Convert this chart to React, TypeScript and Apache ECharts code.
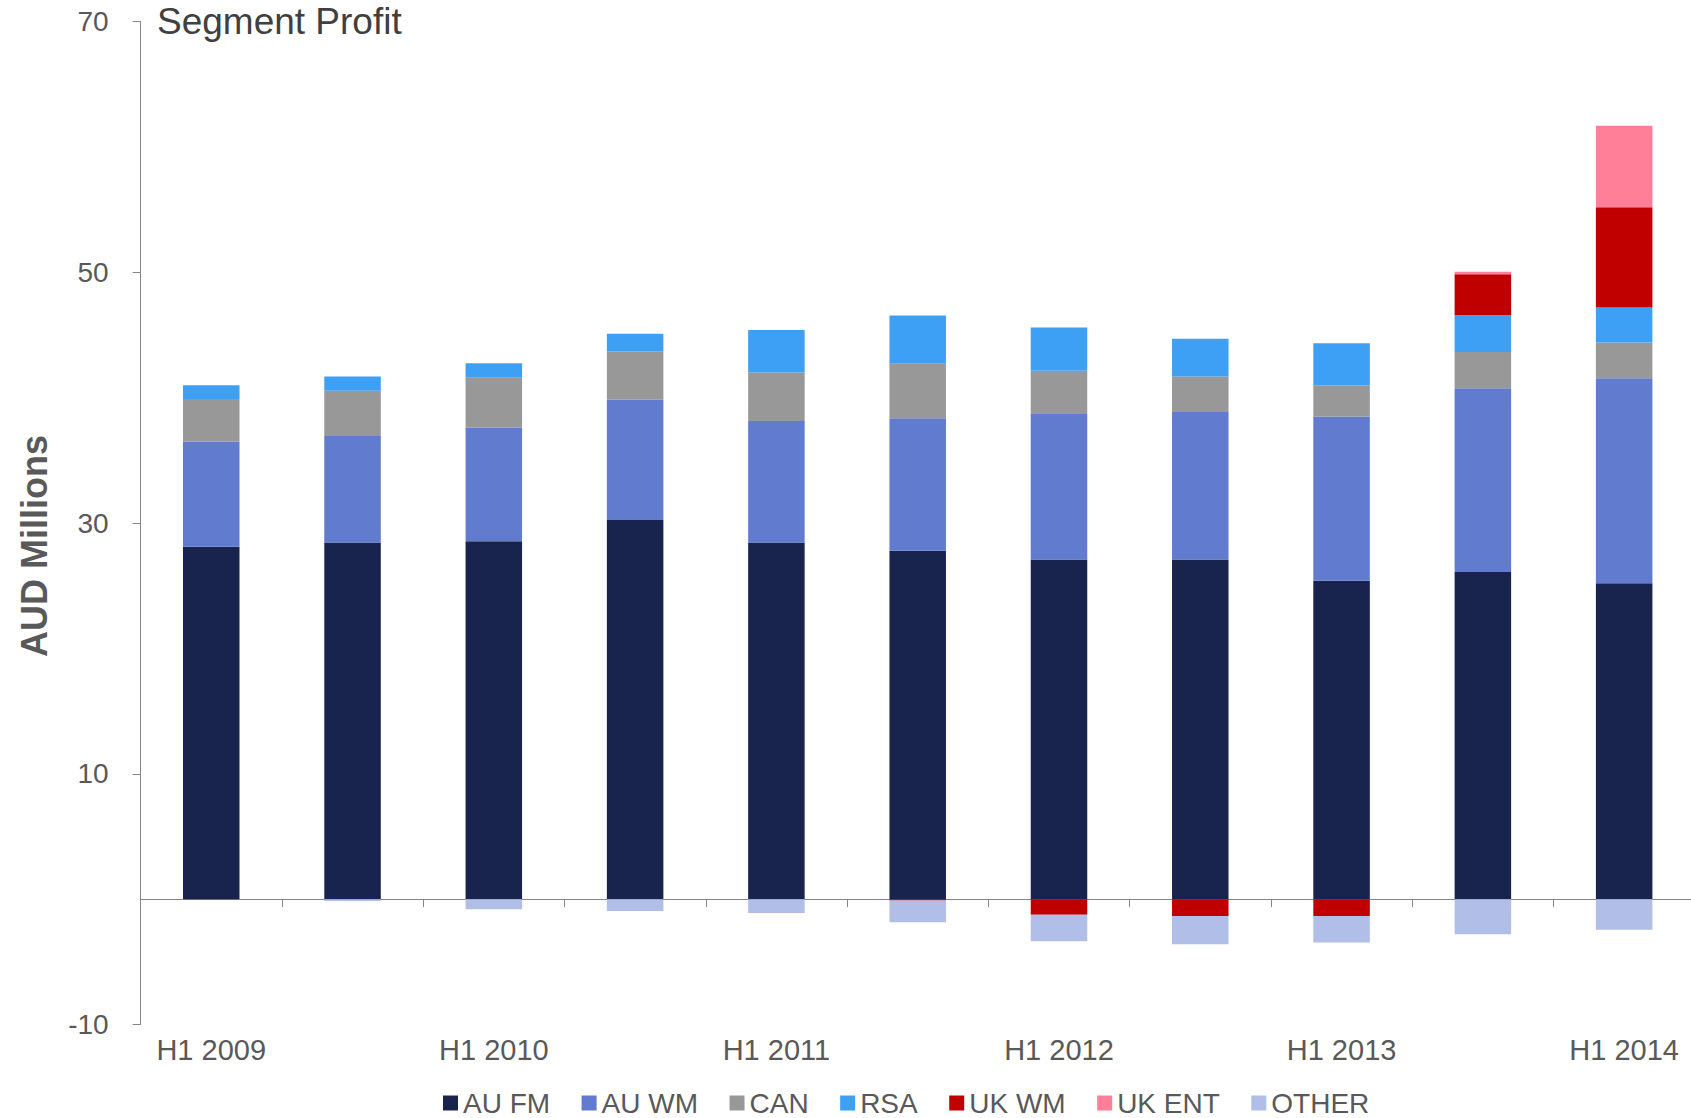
import React, { useEffect, useRef } from "react";
import * as echarts from "echarts";

const categories = [
  "H1 2009", "H2 2009", "H1 2010", "H2 2010", "H1 2011", "H2 2011",
  "H1 2012", "H2 2012", "H1 2013", "H2 2013", "H1 2014",
];
const seriesNames = ["AU FM", "AU WM", "CAN", "RSA", "UK WM", "UK ENT", "OTHER"];
const auFm = [28.1, 28.45, 28.55, 30.25, 28.45, 27.8, 27.1, 27.1, 25.4, 26.1, 25.2];
const auWm = [8.4, 8.5, 9.05, 9.6, 9.7, 10.55, 11.6, 11.75, 13.1, 14.65, 16.35];
const can = [3.4, 3.6, 4.0, 3.85, 3.85, 4.35, 3.45, 2.85, 2.5, 2.9, 2.85];
const rsa = [1.1, 1.15, 1.15, 1.4, 3.4, 3.85, 3.45, 3.0, 3.35, 2.95, 2.8];
const ukWm = [0, 0, 0, 0, 0, -0.1, -1.25, -1.35, -1.35, 3.25, 8.0];
const ukEnt = [0, 0, 0, 0, 0, 0, 0, 0, 0, 0.2, 6.5];
const other = [0, -0.15, -0.8, -0.95, -1.1, -1.75, -2.1, -2.25, -2.1, -2.8, -2.45];
const colors = ["#18244E", "#617CCE", "#989898", "#3DA0F4", "#C00000", "#FF7F99", "#B0BEE8"];
const yTicks = { min: -10, max: 70, interval: 20 };

const FONT = "'Liberation Sans', Arial, sans-serif";

export default function App() {
  const ref = useRef<HTMLDivElement>(null);
  useEffect(() => {
    if (!ref.current) return;
    const chart = echarts.init(ref.current, undefined, { renderer: "svg" });
    const data = [auFm, auWm, can, rsa, ukWm, ukEnt, other];
    chart.setOption({
      animation: false,
      backgroundColor: "#ffffff",
      textStyle: { fontFamily: FONT },
      title: {
        text: "Segment Profit",
        left: 157,
        top: 3,
        padding: 0,
        textStyle: { fontFamily: FONT, fontSize: 37, fontWeight: "normal", color: "#404040" },
      },
      legend: {
        left: 443,
        top: 1089,
        padding: 0,
        itemWidth: 15,
        itemHeight: 15,
        itemGap: 31.5,
        icon: "rect",
        data: seriesNames,
        textStyle: {
          fontFamily: FONT,
          fontSize: 28,
          color: "#595959",
          padding: [0, 0, 0, 0],
        },
      },
      grid: {
        left: 140.6,
        width: 1554.2,
        top: 21.6,
        bottom: 93.5,
        containLabel: false,
        outerBoundsMode: "none",
      },
      xAxis: [
        {
          type: "category",
          data: categories,
          position: "bottom",
          axisLine: { show: false, onZero: false },
          axisTick: { show: false },
          axisLabel: {
            interval: 1,
            margin: 11,
            fontSize: 29,
            color: "#595959",
            fontFamily: FONT,
          },
        },
        {
          type: "category",
          data: categories,
          position: "bottom",
          axisLine: { show: true, onZero: true, lineStyle: { color: "#868686", width: 1 } },
          axisTick: { show: true, interval: 0, length: 8, lineStyle: { color: "#868686" } },
          axisLabel: { show: false },
        },
      ],
      yAxis: {
        type: "value",
        min: yTicks.min,
        max: yTicks.max,
        interval: yTicks.interval,
        splitLine: { show: false },
        axisLine: { show: true, lineStyle: { color: "#868686", width: 1 } },
        axisTick: { show: true, length: 8, lineStyle: { color: "#868686" } },
        axisLabel: { margin: 32, fontSize: 28, color: "#595959", fontFamily: FONT },
      },
      graphic: [
        {
          type: "text",
          x: 34,
          y: 546,
          rotation: Math.PI / 2,
          style: {
            text: "AUD Millions",
            font: `bold 36px ${FONT}`,
            fill: "#595959",
            align: "center",
            verticalAlign: "middle",
          },
        },
      ],
      series: seriesNames.map((name, i) => ({
        name,
        type: "bar",
        stack: "total",
        barWidth: "40%",
        xAxisIndex: 0,
        itemStyle: { color: colors[i] },
        data: data[i],
      })),
    });
    return () => chart.dispose();
  }, []);
  return (
    <div
      ref={ref}
      style={{ position: "fixed", left: 0, top: 0, width: 1691, height: 1118, background: "#fff" }}
    />
  );
}
